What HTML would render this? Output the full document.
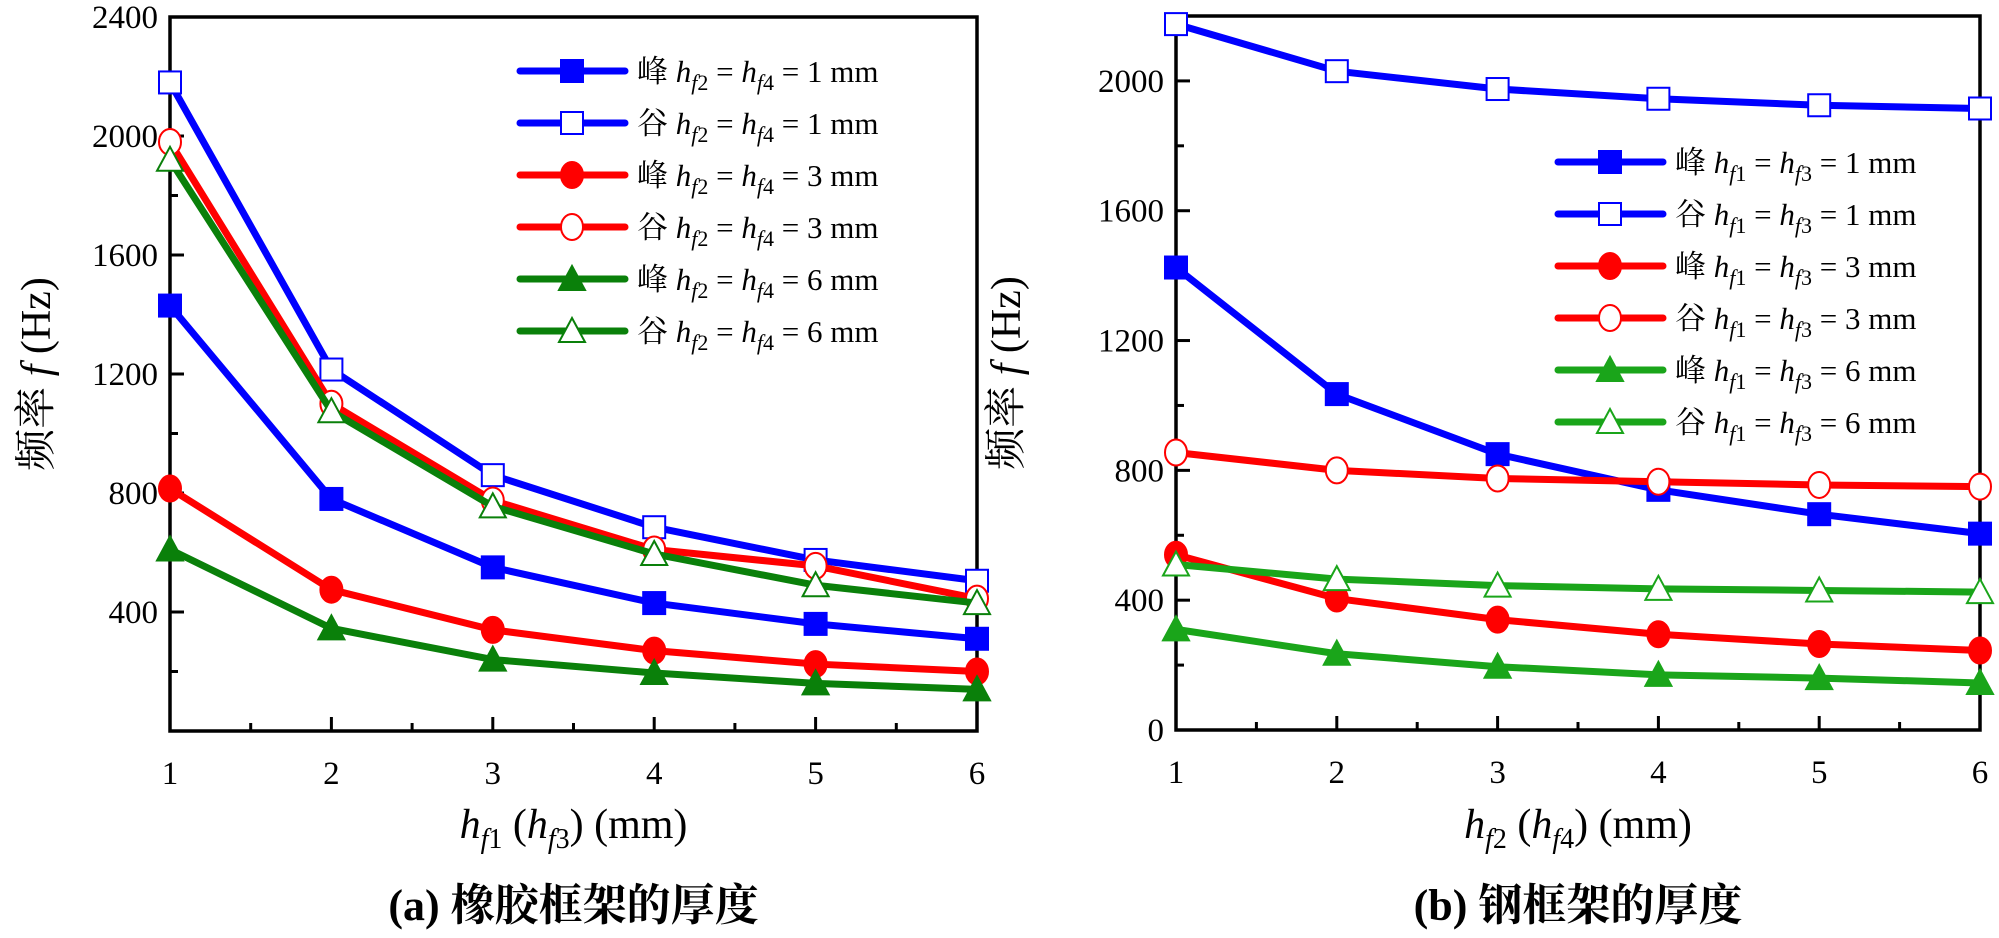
<!DOCTYPE html>
<html><head><meta charset="utf-8">
<style>
body{margin:0;background:#fff;}
svg text{font-family:"Liberation Serif","Noto Serif CJK SC","Noto Sans CJK SC",serif;}
</style></head>
<body>
<svg id="fig" width="1999" height="933" viewBox="0 0 1999 933" xmlns="http://www.w3.org/2000/svg"></svg>
<script>
const xCats = [1,2,3,4,5,6];
// Panel (a)
const aBlueFilled = [1430,780,550,430,360,310];
const aBlueOpen   = [2180,1215,860,685,575,505];
const aRedFilled  = [815,475,340,270,225,200];
const aRedOpen    = [1980,1100,775,610,555,445];
const aGreenFilled= [610,345,240,195,160,140];
const aGreenOpen  = [1920,1075,755,595,490,430];
const aYTicks = [400,800,1200,1600,2000,2400];
// Panel (b)
const bBlueFilled = [1425,1035,850,740,665,605];
const bBlueOpen   = [2175,2030,1975,1945,1925,1915];
const bRedFilled  = [540,405,340,295,265,245];
const bRedOpen    = [855,800,775,765,755,750];
const bGreenFilled= [310,235,195,170,160,145];
const bGreenOpen  = [510,465,445,435,430,425];
const bYTicks = [0,400,800,1200,1600,2000];
const aLegendLabels = ["峰","谷","峰","谷","峰","谷"];
const legendVals = ["1","1","3","3","6","6"];

const NS="http://www.w3.org/2000/svg";
const svg=document.getElementById('fig');
function mk(tag,attrs,parent){const e=document.createElementNS(NS,tag);for(const k in attrs)e.setAttribute(k,attrs[k]);(parent||svg).appendChild(e);return e;}

function marker(g,type,filled,color,cx,cy){
  let e;
  const fill=filled?color:'#fff';
  if(type==='sq'){e=mk('rect',{x:cx-11,y:cy-11,width:22,height:22,fill:fill,stroke:color,'stroke-width':2},g);}
  else if(type==='ci'){e=mk('ellipse',{cx:cx,cy:cy,rx:11,ry:13,fill:fill,stroke:color,'stroke-width':2},g);}
  else {e=mk('polygon',{points:`${cx},${cy-13} ${cx-13},${cy+11} ${cx+13},${cy+11}`,fill:fill,stroke:color,'stroke-width':2},g);}
  
  
  return e;
}

function panel(opt){
  const {x0,x1,y0,y1,ymax,yTicks,series,title,xsub1,xsub2,caption,legendX,legendY,legendSub1,legendSub2,yTitleX,name}=opt;
  const g=mk('g',{});
  
  
  const X=v=>x0+(v-1)/5*(x1-x0);
  const Y=v=>y1-v/ymax*(y1-y0);
  const box=mk('rect',{x:x0,y:y0,width:x1-x0,height:y1-y0,fill:'none',stroke:'#000','stroke-width':3.5},g);
  
  
  for(let v=0;v<=ymax;v+=200){
    const major=v%400===0;
    mk('line',{x1:x0,x2:x0+(major?14:8),y1:Y(v),y2:Y(v),stroke:'#000','stroke-width':3},g);
  }
  yTicks.forEach(v=>{
    const t=mk('text',{x:x0-12,y:Y(v)+11,'font-size':33,'text-anchor':'end',fill:'#000'},g);
    t.textContent=v;
    
    
  });
  for(let v=1;v<=6;v+=0.5){
    const major=Number.isInteger(v);
    mk('line',{x1:X(v),x2:X(v),y1:y1,y2:y1-(major?14:8),stroke:'#000','stroke-width':3},g);
  }
  xCats.forEach(v=>{
    const t=mk('text',{x:X(v),y:y1+53,'font-size':33,'text-anchor':'middle',fill:'#000'},g);
    t.textContent=v;
    
    
  });
  series.forEach(s=>{
    const pts=s.data.map((v,i)=>`${X(xCats[i])},${Y(v)}`).join(' ');
    const pl=mk('polyline',{points:pts,fill:'none',stroke:s.color,'stroke-width':7,'stroke-linejoin':'round'},g);
    
    
    s.data.forEach((v,i)=>marker(g,s.type,s.filled,s.color,X(xCats[i]),Y(v)));
  });
  series.forEach((s,i)=>{
    const ly=legendY+i*52;
    const lg=mk('g',{},g);
    
    
    mk('line',{x1:legendX,x2:legendX+105,y1:ly,y2:ly,stroke:s.color,'stroke-width':7,'stroke-linecap':'round'},lg);
    marker(lg,s.type,s.filled,s.color,legendX+52,ly);
    const t=mk('text',{x:legendX+117,y:ly+11,'font-size':31,fill:'#000'},lg);
    t.innerHTML=`${aLegendLabels[i]} <tspan font-style="italic">h</tspan><tspan font-style="italic" font-size="22" dy="8">f</tspan><tspan font-size="22">${legendSub1}</tspan><tspan dy="-8"> = </tspan><tspan font-style="italic">h</tspan><tspan font-style="italic" font-size="22" dy="8">f</tspan><tspan font-size="22">${legendSub2}</tspan><tspan dy="-8"> = ${legendVals[i]} mm</tspan>`;
  });
  const yt=mk('text',{x:0,y:0,'font-size':42,'text-anchor':'middle',fill:'#000',transform:`translate(${yTitleX},${(y0+y1)/2}) rotate(-90)`},g);
  yt.innerHTML='频率 <tspan font-style="italic">f</tspan> (Hz)';
  
  
  const xt=mk('text',{x:(x0+x1)/2,y:838,'font-size':42,'text-anchor':'middle',fill:'#000'},g);
  xt.innerHTML=`<tspan font-style="italic">h</tspan><tspan font-style="italic" font-size="28" dy="10">f</tspan><tspan font-size="28">${xsub1}</tspan><tspan dy="-10"> (</tspan><tspan font-style="italic">h</tspan><tspan font-style="italic" font-size="28" dy="10">f</tspan><tspan font-size="28">${xsub2}</tspan><tspan dy="-10">) (mm)</tspan>`;
  
  
  const ct=mk('text',{x:(x0+x1)/2,y:920,'font-size':44,'font-weight':'bold','text-anchor':'middle',fill:'#000'},g);
  ct.textContent=caption;
  
  
}

panel({name:'panel-a',x0:170,x1:977,y0:17,y1:731,ymax:2400,yTicks:aYTicks,
  series:[
    {data:aBlueFilled,color:'#0000ff',type:'sq',filled:true},
    {data:aBlueOpen,color:'#0000ff',type:'sq',filled:false},
    {data:aRedFilled,color:'#ff0000',type:'ci',filled:true},
    {data:aRedOpen,color:'#ff0000',type:'ci',filled:false},
    {data:aGreenFilled,color:'#0a800a',type:'tr',filled:true},
    {data:aGreenOpen,color:'#0a800a',type:'tr',filled:false}],
  xsub1:'1',xsub2:'3',caption:'(a) 橡胶框架的厚度',legendX:520,legendY:71,legendSub1:'2',legendSub2:'4',yTitleX:50});
panel({name:'panel-b',x0:1176,x1:1980,y0:16,y1:730,ymax:2200,yTicks:bYTicks,
  series:[
    {data:bBlueFilled,color:'#0000ff',type:'sq',filled:true},
    {data:bBlueOpen,color:'#0000ff',type:'sq',filled:false},
    {data:bRedFilled,color:'#ff0000',type:'ci',filled:true},
    {data:bRedOpen,color:'#ff0000',type:'ci',filled:false},
    {data:bGreenFilled,color:'#1aa51a',type:'tr',filled:true},
    {data:bGreenOpen,color:'#1aa51a',type:'tr',filled:false}],
  xsub1:'2',xsub2:'4',caption:'(b) 钢框架的厚度',legendX:1558,legendY:162,legendSub1:'1',legendSub2:'3',yTitleX:1020});
</script>
</body></html>
